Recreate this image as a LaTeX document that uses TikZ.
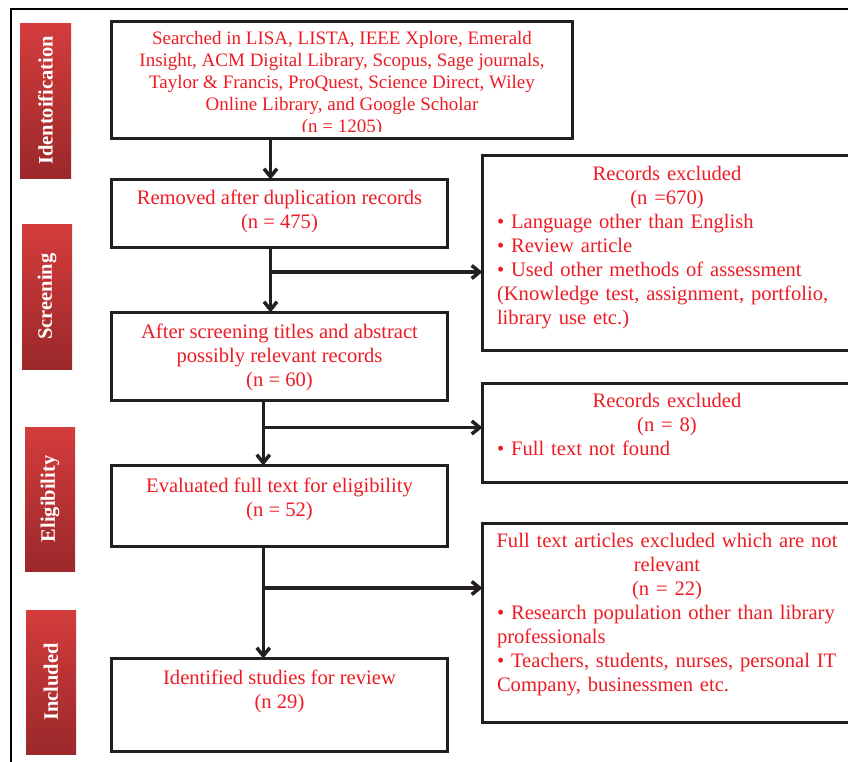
\documentclass[tikz,border=0pt]{standalone}
\usepackage{fontspec}
\setmainfont{Liberation Serif}
\usetikzlibrary{arrows.meta}
\definecolor{txtred}{RGB}{237,28,36}
\definecolor{linegray}{RGB}{35,31,32}
\definecolor{barlight}{RGB}{212,60,60}
\definecolor{bardark}{RGB}{155,40,42}
\begin{document}
\begin{tikzpicture}[x=1pt,y=-1pt,
  flowbox/.style={draw=linegray, line width=3pt, inner sep=0pt, outer sep=0pt, fill=white},
  redtext/.style={text=txtred, inner sep=0pt, outer sep=0pt, font=\fontsize{20.6}{24}\selectfont},
  conn/.style={draw=linegray, line width=3.5pt},
  arr/.style={conn, -{Straight Barb[length=8pt,width=13pt]}},
  sidebar/.style={inner sep=0pt, top color=barlight, bottom color=bardark, draw=none},
  bartext/.style={text=white, font=\fontsize{20.5}{24}\selectfont\bfseries, rotate=90, inner sep=0pt}
]
\useasboundingbox (0,0) rectangle (848,761);
\clip (0,0) rectangle (848,761);
\fill[white] (0,0) rectangle (848,761);

% outer frame
\draw[black, line width=2pt] (11,9) rectangle (880,800);

% side bars
\node[sidebar, minimum width=51, minimum height=155] (bid) at (45.5,100.5) {};
\node[bartext] at (bid) {Identoification};
\node[sidebar, minimum width=50, minimum height=145] (bsc) at (47,296.5) {};
\node[bartext] at (bsc) {Screening};
\node[sidebar, minimum width=50, minimum height=144] (bel) at (50,499) {};
\node[bartext] at (bel) {Eligibility};
\node[sidebar, minimum width=50, minimum height=144] (bin) at (51,682) {};
\node[bartext] at (bin) {Included};

% left column boxes
\node[flowbox, minimum width=461, minimum height=117] (b1) at (342,80) {};
\node[flowbox, minimum width=336, minimum height=68] (b2) at (279.5,213.5) {};
\node[flowbox, minimum width=336, minimum height=88] (b3) at (279.5,356.5) {};
\node[flowbox, minimum width=336, minimum height=81] (b4) at (279.5,506) {};
\node[flowbox, minimum width=336, minimum height=93] (b5) at (279.5,705) {};

% right column boxes
\node[flowbox, minimum width=369, minimum height=195] (r1) at (667,253) {};
\node[flowbox, minimum width=369, minimum height=99] (r2) at (667,433) {};
\node[flowbox, minimum width=369, minimum height=199] (r3) at (667,623) {};

% texts
\begin{scope}
\clip (113,23) rectangle (571,131);
\node[redtext, font=\fontsize{19}{22}\selectfont, align=center, anchor=north] (t1) at (342,31.3)
 {Searched in LISA, LISTA, IEEE Xplore, Emerald\\Insight, ACM Digital Library, Scopus, Sage journals,\\Taylor \& Francis, ProQuest, Science Direct, Wiley\\Online Library, and Google Scholar\\(n = 1205)};
\end{scope}
\node[redtext, align=center, anchor=north] (t2) at (279.5,189.5) {Removed after duplication records\\(n = 475)};
\node[redtext, align=center, anchor=north] (t3) at (279.5,323.5) {After screening titles and abstract\\possibly relevant records\\(n = 60)};
\node[redtext, align=center, anchor=north] (t4) at (279.5,477.5) {Evaluated full text for eligibility\\(n = 52)};
\node[redtext, align=center, anchor=north] (t5) at (279.5,669.5) {Identified studies for review\\(n 29)};

\node[redtext, text width=340pt, align=left, anchor=north west] (tr1) at (497,166.5)
 {\parindent=0pt{\centering Records excluded\\(n =670)\par}%
 • Language other than English\\
 • Review article\\
 • Used other methods of assessment\\
 (Knowledge test, assignment, portfolio,\\
 library use etc.)};
\node[redtext, text width=340pt, align=left, anchor=north west] (tr2) at (497,393.5)
 {\parindent=0pt{\centering Records excluded\\(n = 8)\par}%
 • Full text not found};
\node[redtext, text width=340pt, align=left, anchor=north west] (tr3) at (497,533.5)
 {\parindent=0pt\makebox[\linewidth][c]{Full text articles excluded which are not}\par
 \makebox[\linewidth][c]{relevant}\par
 \makebox[\linewidth][c]{(n = 22)}\par
 • Research population other than library\\
 professionals\\
 • Teachers, students, nurses, personal IT\\
 Company, businessmen etc.};

% connectors
\coordinate (j1) at (270.5,272);
\coordinate (j2) at (263.3,427.5);
\coordinate (j3) at (263.3,588);
\draw[arr] (b1.south -| j1) -- (b2.north -| j1);
\draw[conn] (b2.south -| j1) -- (j1);
\draw[arr] (j1) -- (b3.north -| j1);
\draw[arr] (j1) -- (j1 -| r1.west);
\draw[conn] (b3.south -| j2) -- (j2);
\draw[arr] (j2) -- (b4.north -| j2);
\draw[arr] (j2) -- (j2 -| r2.west);
\draw[conn] (b4.south -| j3) -- (j3);
\draw[arr] (j3) -- (b5.north -| j3);
\draw[arr] (j3) -- (j3 -| r3.west);
\end{tikzpicture}
\end{document}
